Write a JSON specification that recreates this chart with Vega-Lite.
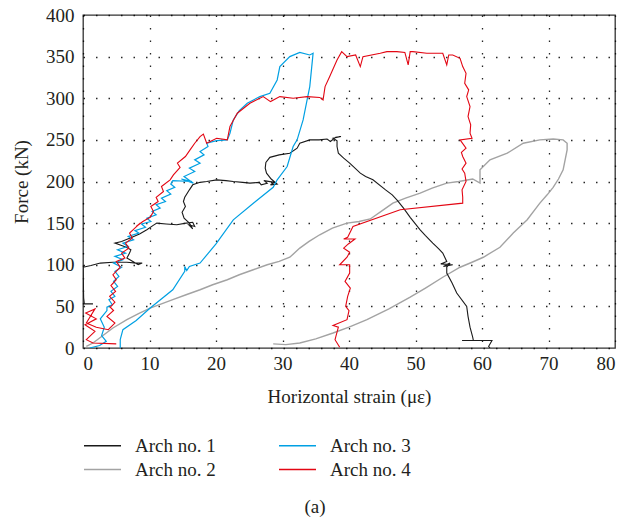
{
  "$schema": "https://vega.github.io/schema/vega-lite/v6.json",
  "width": 532,
  "height": 333,
  "autosize": {"type": "none"},
  "padding": {"left": 83, "top": 15, "right": 10, "bottom": 179},
  "background": "white",
  "title": {"text": "(a)", "orient": "bottom", "anchor": "middle", "dx": -34, "offset": 18, "fontSize": 19, "font": "Liberation Serif", "fontWeight": "normal", "color": "#231f20"},
  "config": {
    "font": "Liberation Serif",
    "view": {"stroke": "#333333", "strokeWidth": 1.3},
    "axis": {
      "labelFont": "Liberation Serif", "titleFont": "Liberation Serif",
      "labelFontSize": 19, "titleFontSize": 19, "titleFontWeight": "normal",
      "labelColor": "#231f20", "titleColor": "#231f20",
      "domain": false, "ticks": false,
      "gridColor": "#000000", "gridDash": [1.5, 11], "gridWidth": 1.3, "gridOpacity": 0.85
    },
    "legend": {"labelFont": "Liberation Serif", "labelFontSize": 19, "labelColor": "#231f20"}
  },
  "datasets": {
    "arch1": [
      {"strain": 1.5, "force": 53}, {"strain": 0.2, "force": 53}, {"strain": 0.1, "force": 60},
      {"strain": 0, "force": 97}, {"strain": 1.2, "force": 99}, {"strain": 2.6, "force": 102},
      {"strain": 4.5, "force": 103}, {"strain": 6.6, "force": 103}, {"strain": 8, "force": 102},
      {"strain": 8.9, "force": 102}, {"strain": 8.3, "force": 100}, {"strain": 7.5, "force": 104},
      {"strain": 6.6, "force": 108}, {"strain": 7, "force": 114}, {"strain": 7.2, "force": 118},
      {"strain": 6.5, "force": 121}, {"strain": 5.5, "force": 124}, {"strain": 4.8, "force": 126},
      {"strain": 5.8, "force": 128}, {"strain": 7.1, "force": 132}, {"strain": 8.5, "force": 137},
      {"strain": 9.6, "force": 142}, {"strain": 10.5, "force": 147}, {"strain": 11.1, "force": 150},
      {"strain": 12.5, "force": 149}, {"strain": 14.1, "force": 148}, {"strain": 15.5, "force": 150},
      {"strain": 16.5, "force": 151}, {"strain": 16.8, "force": 146}, {"strain": 15.9, "force": 148},
      {"strain": 16.5, "force": 143}, {"strain": 16, "force": 150},
      {"strain": 15.2, "force": 156}, {"strain": 14.9, "force": 163}, {"strain": 15.4, "force": 170},
      {"strain": 15.1, "force": 176}, {"strain": 15.3, "force": 181}, {"strain": 16, "force": 190},
      {"strain": 16.5, "force": 196}, {"strain": 17.6, "force": 199}, {"strain": 18.6, "force": 200},
      {"strain": 20.1, "force": 202}, {"strain": 21.5, "force": 201}, {"strain": 22.6, "force": 200},
      {"strain": 24, "force": 199}, {"strain": 25.1, "force": 198}, {"strain": 26.5, "force": 199},
      {"strain": 26.8, "force": 196}, {"strain": 27.7, "force": 198}, {"strain": 27.2, "force": 201},
      {"strain": 28.8, "force": 199}, {"strain": 28.2, "force": 196}, {"strain": 29.2, "force": 197},
      {"strain": 28.3, "force": 203}, {"strain": 27.6, "force": 210}, {"strain": 27.4, "force": 216},
      {"strain": 27.5, "force": 223}, {"strain": 28.1, "force": 229}, {"strain": 29.5, "force": 232},
      {"strain": 31.1, "force": 234}, {"strain": 32.2, "force": 240}, {"strain": 32.6, "force": 246},
      {"strain": 34.1, "force": 250}, {"strain": 35.5, "force": 250}, {"strain": 36.7, "force": 251},
      {"strain": 37.2, "force": 248}, {"strain": 38, "force": 253}, {"strain": 38.8, "force": 254},
      {"strain": 37.6, "force": 252}, {"strain": 38.2, "force": 249},
      {"strain": 38.2, "force": 242}, {"strain": 38.4, "force": 234}, {"strain": 39.2, "force": 228},
      {"strain": 40.1, "force": 222}, {"strain": 41.7, "force": 210}, {"strain": 42.5, "force": 206},
      {"strain": 43.6, "force": 202}, {"strain": 45.5, "force": 190}, {"strain": 46.5, "force": 184},
      {"strain": 47.2, "force": 178}, {"strain": 48.2, "force": 168}, {"strain": 49.2, "force": 157},
      {"strain": 50.7, "force": 142}, {"strain": 51.5, "force": 135}, {"strain": 52.6, "force": 126},
      {"strain": 53.5, "force": 119}, {"strain": 54.1, "force": 114}, {"strain": 54.7, "force": 104},
      {"strain": 53.8, "force": 101}, {"strain": 55.6, "force": 100}, {"strain": 54.2, "force": 98},
      {"strain": 55.2, "force": 102}, {"strain": 54.7, "force": 97},
      {"strain": 54.7, "force": 90}, {"strain": 55.5, "force": 78}, {"strain": 56.2, "force": 66},
      {"strain": 57.7, "force": 50}, {"strain": 57.9, "force": 38}, {"strain": 58.2, "force": 25},
      {"strain": 58.6, "force": 13}, {"strain": 58.7, "force": 9}, {"strain": 57, "force": 9},
      {"strain": 61.5, "force": 9}, {"strain": 61, "force": 2}, {"strain": 61.2, "force": 0}
    ],
    "arch2": [
      {"strain": 0.5, "force": 2}, {"strain": 1.5, "force": 6}, {"strain": 3, "force": 15},
      {"strain": 4.5, "force": 24}, {"strain": 6.6, "force": 34}, {"strain": 8.5, "force": 42},
      {"strain": 10.1, "force": 48}, {"strain": 11.8, "force": 53}, {"strain": 13.5, "force": 58},
      {"strain": 15.5, "force": 64}, {"strain": 17.6, "force": 70}, {"strain": 19.5, "force": 76},
      {"strain": 21.7, "force": 82}, {"strain": 23.5, "force": 88}, {"strain": 25.6, "force": 94},
      {"strain": 27.7, "force": 100}, {"strain": 29.5, "force": 104}, {"strain": 31.1, "force": 109},
      {"strain": 32.6, "force": 120}, {"strain": 34, "force": 128}, {"strain": 35.6, "force": 136},
      {"strain": 37.5, "force": 144}, {"strain": 39.7, "force": 150}, {"strain": 41.5, "force": 152},
      {"strain": 43.2, "force": 155}, {"strain": 45, "force": 165}, {"strain": 46.6, "force": 174},
      {"strain": 48.5, "force": 180}, {"strain": 50.7, "force": 186}, {"strain": 52.5, "force": 192},
      {"strain": 54.7, "force": 198}, {"strain": 56.5, "force": 200}, {"strain": 58.6, "force": 203},
      {"strain": 59.7, "force": 198}, {"strain": 59.7, "force": 208}, {"strain": 59.7, "force": 214},
      {"strain": 61.2, "force": 226}, {"strain": 63.8, "force": 234}, {"strain": 66.2, "force": 246},
      {"strain": 68.7, "force": 250}, {"strain": 70.7, "force": 251}, {"strain": 72.2, "force": 250},
      {"strain": 72.8, "force": 246}, {"strain": 72.8, "force": 238}, {"strain": 72.5, "force": 226},
      {"strain": 72.2, "force": 214}, {"strain": 71.5, "force": 203}, {"strain": 70.7, "force": 193},
      {"strain": 69.8, "force": 184}, {"strain": 68.7, "force": 174}, {"strain": 66.8, "force": 154},
      {"strain": 64.7, "force": 138}, {"strain": 62.7, "force": 121}, {"strain": 60.2, "force": 109},
      {"strain": 58.5, "force": 103}, {"strain": 56.7, "force": 97}, {"strain": 54.1, "force": 85},
      {"strain": 51.5, "force": 72}, {"strain": 49.2, "force": 61}, {"strain": 46, "force": 47},
      {"strain": 42.7, "force": 34}, {"strain": 40, "force": 25}, {"strain": 37.6, "force": 18},
      {"strain": 35, "force": 11}, {"strain": 32.6, "force": 6}, {"strain": 30.5, "force": 4},
      {"strain": 28.6, "force": 5}
    ],
    "arch3": [
      {"strain": 1, "force": 0}, {"strain": 2.5, "force": 3}, {"strain": 3.5, "force": 8},
      {"strain": 2.8, "force": 15}, {"strain": 3.2, "force": 25}, {"strain": 2.6, "force": 35},
      {"strain": 3.6, "force": 45}, {"strain": 3.6, "force": 49}, {"strain": 4.4, "force": 52},
      {"strain": 3.9, "force": 58}, {"strain": 4.8, "force": 62}, {"strain": 4.2, "force": 68},
      {"strain": 5.2, "force": 74}, {"strain": 4.6, "force": 80}, {"strain": 5.4, "force": 86},
      {"strain": 4.8, "force": 92}, {"strain": 5.8, "force": 97}, {"strain": 4.6, "force": 102},
      {"strain": 6, "force": 106}, {"strain": 4.8, "force": 110}, {"strain": 6.4, "force": 114},
      {"strain": 5.2, "force": 118}, {"strain": 6.8, "force": 122}, {"strain": 6, "force": 126},
      {"strain": 7.6, "force": 130}, {"strain": 6.8, "force": 134}, {"strain": 8.4, "force": 138},
      {"strain": 7.8, "force": 141}, {"strain": 9.4, "force": 145}, {"strain": 8.8, "force": 149},
      {"strain": 10.2, "force": 152}, {"strain": 9.6, "force": 156}, {"strain": 11, "force": 160},
      {"strain": 10.4, "force": 164}, {"strain": 11.6, "force": 168}, {"strain": 11, "force": 172},
      {"strain": 12.4, "force": 176}, {"strain": 11.8, "force": 180}, {"strain": 13.2, "force": 185},
      {"strain": 12.6, "force": 189}, {"strain": 13.8, "force": 193}, {"strain": 13.2, "force": 197},
      {"strain": 13.5, "force": 201}, {"strain": 16.4, "force": 200}, {"strain": 14.8, "force": 203},
      {"strain": 16.6, "force": 198}, {"strain": 15.2, "force": 206}, {"strain": 16.8, "force": 212},
      {"strain": 16, "force": 216}, {"strain": 17.6, "force": 222}, {"strain": 16.8, "force": 226},
      {"strain": 18.2, "force": 232}, {"strain": 17.6, "force": 236}, {"strain": 18.8, "force": 242},
      {"strain": 18.6, "force": 246}, {"strain": 20.1, "force": 249}, {"strain": 21.7, "force": 250},
      {"strain": 22.1, "force": 258}, {"strain": 22.6, "force": 274}, {"strain": 23.5, "force": 285},
      {"strain": 24.7, "force": 294}, {"strain": 26.6, "force": 302}, {"strain": 28.1, "force": 306},
      {"strain": 29.2, "force": 322}, {"strain": 29.6, "force": 338}, {"strain": 31.1, "force": 350},
      {"strain": 32.6, "force": 355}, {"strain": 34.1, "force": 352}, {"strain": 34.6, "force": 354},
      {"strain": 34.4, "force": 338}, {"strain": 34.1, "force": 314}, {"strain": 33.7, "force": 298},
      {"strain": 33.1, "force": 274}, {"strain": 32.2, "force": 250}, {"strain": 31.6, "force": 242},
      {"strain": 30.7, "force": 218}, {"strain": 29.2, "force": 202}, {"strain": 28.6, "force": 193},
      {"strain": 25.8, "force": 175}, {"strain": 22.6, "force": 154}, {"strain": 20, "force": 125},
      {"strain": 17.6, "force": 102}, {"strain": 16, "force": 98}, {"strain": 15.6, "force": 93},
      {"strain": 15.3, "force": 98}, {"strain": 15.3, "force": 92}, {"strain": 13.5, "force": 70},
      {"strain": 10.1, "force": 48}, {"strain": 8, "force": 33}, {"strain": 6, "force": 22},
      {"strain": 5.6, "force": 10}, {"strain": 5.6, "force": 0}
    ],
    "arch4": [
      {"strain": 5, "force": 5}, {"strain": 1.5, "force": 6}, {"strain": 0.5, "force": 10},
      {"strain": 1.8, "force": 20}, {"strain": 0.3, "force": 28}, {"strain": 2, "force": 35},
      {"strain": 0.4, "force": 42}, {"strain": 1.8, "force": 47}, {"strain": 0.5, "force": 30},
      {"strain": 2, "force": 25}, {"strain": 3.8, "force": 22}, {"strain": 4.8, "force": 30},
      {"strain": 3.6, "force": 38}, {"strain": 4.6, "force": 45}, {"strain": 4.1, "force": 49},
      {"strain": 4.8, "force": 55}, {"strain": 4, "force": 62}, {"strain": 4.9, "force": 68},
      {"strain": 4.2, "force": 75}, {"strain": 5, "force": 82}, {"strain": 4.5, "force": 88},
      {"strain": 5.6, "force": 97}, {"strain": 5, "force": 104}, {"strain": 6.3, "force": 108},
      {"strain": 5.8, "force": 114}, {"strain": 6.9, "force": 120}, {"strain": 6.4, "force": 126},
      {"strain": 7.4, "force": 132}, {"strain": 7, "force": 138}, {"strain": 8.6, "force": 150},
      {"strain": 8, "force": 146}, {"strain": 9, "force": 152}, {"strain": 10.1, "force": 157},
      {"strain": 10.6, "force": 164}, {"strain": 10.2, "force": 170}, {"strain": 11.3, "force": 176},
      {"strain": 11, "force": 181}, {"strain": 12.1, "force": 188}, {"strain": 11.8, "force": 194},
      {"strain": 13.1, "force": 202}, {"strain": 13.6, "force": 208}, {"strain": 14.6, "force": 217},
      {"strain": 14.2, "force": 222}, {"strain": 15.4, "force": 230}, {"strain": 16.1, "force": 238},
      {"strain": 16.8, "force": 246}, {"strain": 17.6, "force": 254}, {"strain": 18.1, "force": 257},
      {"strain": 18.6, "force": 246}, {"strain": 20.1, "force": 252}, {"strain": 21.7, "force": 250},
      {"strain": 22.1, "force": 266}, {"strain": 23.2, "force": 282}, {"strain": 25.1, "force": 294},
      {"strain": 27.1, "force": 302}, {"strain": 28.2, "force": 296}, {"strain": 29.6, "force": 302},
      {"strain": 31.6, "force": 300}, {"strain": 33.7, "force": 302}, {"strain": 35.6, "force": 301},
      {"strain": 36.1, "force": 298}, {"strain": 36.4, "force": 314}, {"strain": 37.1, "force": 326},
      {"strain": 38.2, "force": 346}, {"strain": 38.9, "force": 356}, {"strain": 39.7, "force": 350},
      {"strain": 41, "force": 352}, {"strain": 41.7, "force": 338}, {"strain": 42.1, "force": 350},
      {"strain": 44.7, "force": 354}, {"strain": 45.7, "force": 356}, {"strain": 47.2, "force": 356},
      {"strain": 48.4, "force": 355}, {"strain": 48.9, "force": 340}, {"strain": 49.2, "force": 356},
      {"strain": 49.6, "force": 356}, {"strain": 51.7, "force": 354}, {"strain": 54.1, "force": 354},
      {"strain": 54.7, "force": 340}, {"strain": 55, "force": 352}, {"strain": 55.6, "force": 352},
      {"strain": 56.7, "force": 348}, {"strain": 57.1, "force": 338}, {"strain": 57.6, "force": 330},
      {"strain": 57.4, "force": 318}, {"strain": 58, "force": 310}, {"strain": 57.7, "force": 302},
      {"strain": 58.2, "force": 290}, {"strain": 57.9, "force": 278}, {"strain": 58.3, "force": 268},
      {"strain": 58.2, "force": 258}, {"strain": 58.5, "force": 252}, {"strain": 56.7, "force": 250},
      {"strain": 57.6, "force": 240}, {"strain": 56.9, "force": 235}, {"strain": 57.1, "force": 230},
      {"strain": 57.6, "force": 222}, {"strain": 57, "force": 215}, {"strain": 57.4, "force": 210},
      {"strain": 57.6, "force": 200}, {"strain": 57, "force": 190}, {"strain": 57.1, "force": 181},
      {"strain": 57.1, "force": 174}, {"strain": 47.7, "force": 166}, {"strain": 40.6, "force": 146},
      {"strain": 39.8, "force": 133}, {"strain": 39.2, "force": 131}, {"strain": 40.9, "force": 131},
      {"strain": 39.9, "force": 125}, {"strain": 39.2, "force": 120}, {"strain": 40.1, "force": 115},
      {"strain": 39.7, "force": 109}, {"strain": 38.6, "force": 100}, {"strain": 40.1, "force": 100},
      {"strain": 40.1, "force": 90}, {"strain": 39.4, "force": 80}, {"strain": 40.2, "force": 72},
      {"strain": 39.8, "force": 62}, {"strain": 39.5, "force": 50}, {"strain": 40, "force": 45},
      {"strain": 39.7, "force": 34}, {"strain": 37.6, "force": 27}, {"strain": 38.4, "force": 25},
      {"strain": 37.9, "force": 10}, {"strain": 38.6, "force": 1}
    ]
  },
  "layer": [
    {
      "data": {"name": "arch2"},
      "mark": {"type": "line", "strokeWidth": 1.4, "clip": true},
      "encoding": {"order": {"value": null}, "color": {"datum": "Arch no. 2"}}
    },
    {
      "data": {"name": "arch1"},
      "mark": {"type": "line", "strokeWidth": 1.1, "clip": true},
      "encoding": {"order": {"value": null}, "color": {"datum": "Arch no. 1"}}
    },
    {
      "data": {"name": "arch3"},
      "mark": {"type": "line", "strokeWidth": 1.2, "clip": true},
      "encoding": {"order": {"value": null}, "color": {"datum": "Arch no. 3"}}
    },
    {
      "data": {"name": "arch4"},
      "mark": {"type": "line", "strokeWidth": 1.1, "clip": true},
      "encoding": {"order": {"value": null}, "color": {"datum": "Arch no. 4"}}
    }
  ],
  "encoding": {
    "x": {"field": "strain", "type": "quantitative", "title": "Horizontal strain (με)",
      "scale": {"domain": [0, 80], "nice": false},
      "axis": {"values": [0, 10, 20, 30, 40, 50, 60, 70, 80], "labelPadding": 6, "titlePadding": 14}},
    "y": {"field": "force", "type": "quantitative", "title": "Force (kN)",
      "scale": {"domain": [0, 400], "nice": false},
      "axis": {"values": [0, 50, 100, 150, 200, 250, 300, 350, 400], "labelPadding": 9, "titlePadding": 14}},
    "color": {"type": "nominal", "title": null,
      "scale": {"domain": ["Arch no. 1", "Arch no. 3", "Arch no. 2", "Arch no. 4"],
                "range": ["#1a1a1a", "#00a0e3", "#a3a3a3", "#e30613"]},
      "legend": {"orient": "none", "legendX": 10, "legendY": 421, "columns": 2, "direction": "horizontal",
        "symbolType": "M-3.7,0H3.7", "symbolSize": 100, "symbolStrokeWidth": 1.3,
        "labelOffset": 23, "columnPadding": 60, "rowPadding": 4}}
  }
}
